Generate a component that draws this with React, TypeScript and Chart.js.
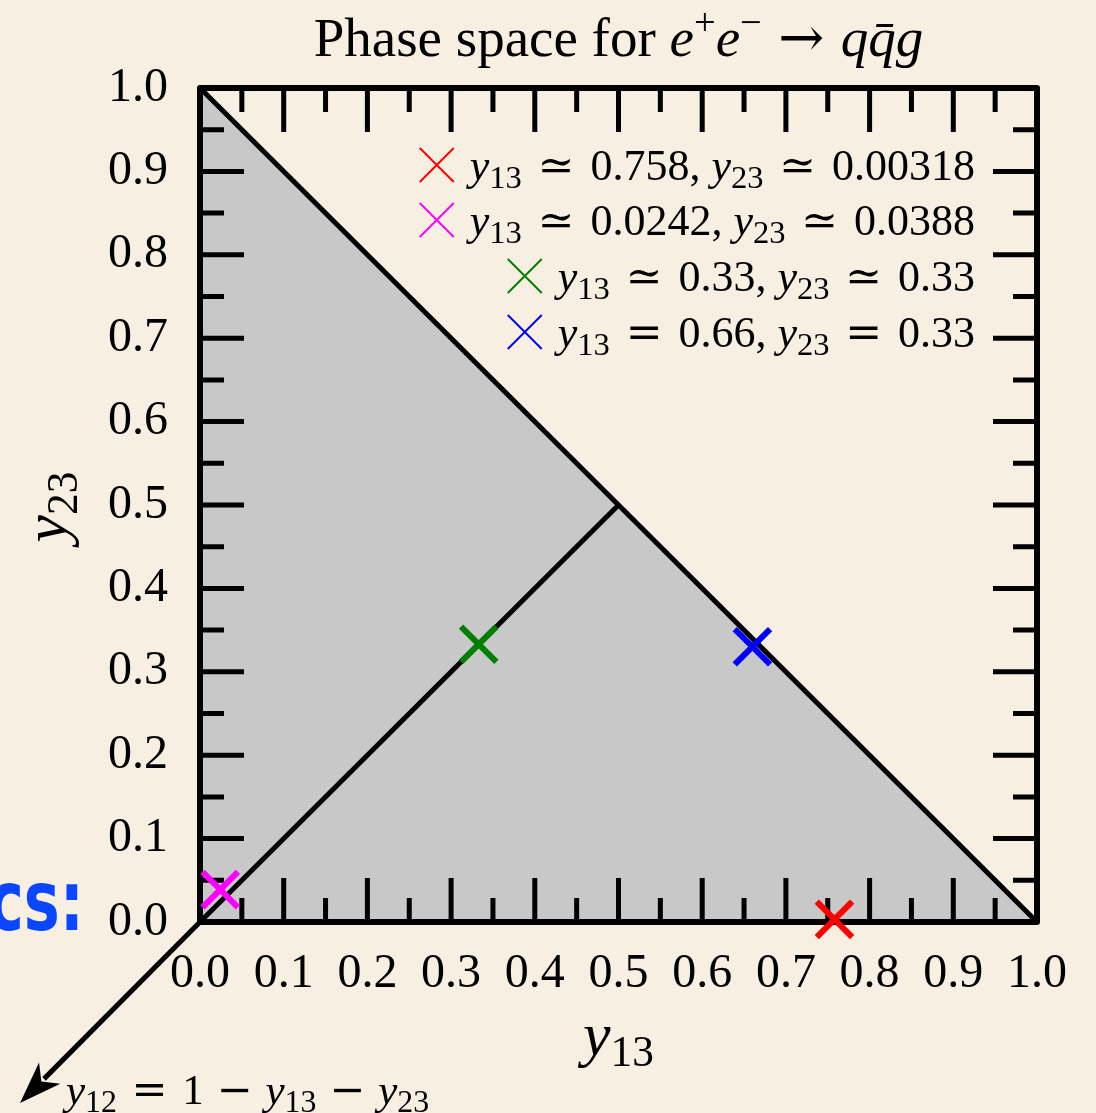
import { useEffect, useRef } from 'react';
import { Chart, registerables } from 'chart.js';

Chart.register(...registerables);

const SERIF = '"Liberation Serif","DejaVu Serif",serif';
const OPFONT = '"DejaVu Serif",serif';
const BG = '#f7efe1';
const GRAY = '#c8c8c8';

// data
const boundaryX = [0, 1];
const boundaryY = [1, 0];
const bisectorX = [0, 0.5];
const bisectorY = [0, 0.5];
const arrowX = [0, -0.215];
const arrowY = [0, -0.217];
const pointX = [0.758, 0.0242, 0.333, 0.66];
const pointY = [0.00318, 0.0388, 0.333, 0.33];
const pointColors = ['#ff0000', '#ff00ff', '#008000', '#0000ff'];
const legendRel = ['\u2243', '\u2243', '\u2243', '='];
const legendY13 = ['0.758', '0.0242', '0.33', '0.66'];
const legendY23 = ['0.00318', '0.0388', '0.33', '0.33'];
const tickStep = 0.1;

type Seg = { t: string; i?: boolean; sub?: boolean; sup?: boolean; op?: boolean; pad?: number };

let SUBSCALE = 0.7;

function segFont(s: Seg, size: number) {
  const sz = s.sub || s.sup ? size * SUBSCALE : size;
  return `${s.i ? 'italic ' : ''}${sz}px ${s.op ? OPFONT : SERIF}`;
}

function segWidth(ctx: CanvasRenderingContext2D, s: Seg, size: number) {
  ctx.font = segFont(s, size);
  return ctx.measureText(s.t).width + 2 * (s.pad || 0) * size;
}

function drawRich(
  ctx: CanvasRenderingContext2D,
  segs: Seg[],
  x: number,
  y: number,
  size: number,
  align: 'left' | 'right' | 'center',
  subScale = 0.7,
) {
  SUBSCALE = subScale;
  let total = 0;
  for (const s of segs) total += segWidth(ctx, s, size);
  let cx = align === 'right' ? x - total : align === 'center' ? x - total / 2 : x;
  const start = cx;
  ctx.textBaseline = 'alphabetic';
  ctx.textAlign = 'left';
  for (const s of segs) {
    const w = segWidth(ctx, s, size);
    ctx.font = segFont(s, size);
    const dy = s.sub ? size * 0.18 : s.sup ? -size * 0.38 : 0;
    ctx.fillText(s.t, cx + (s.pad || 0) * size, y + dy);
    cx += w;
  }
  SUBSCALE = 0.7;
  return start;
}

const framePlugin = {
  id: 'frame',
  beforeDatasetsDraw(chart: any) {
    const { ctx, chartArea: a, scales } = chart;
    const xs = scales.x;
    const ys = scales.y;
    ctx.save();
    ctx.strokeStyle = '#000';
    ctx.lineWidth = 5;
    ctx.lineCap = 'butt';
    const majors = xs.ticks.map((t: any) => t.value);
    const marks: { v: number; len: number }[] = [];
    majors.forEach((v: number, i: number) => {
      if (i > 0 && i < majors.length - 1) marks.push({ v, len: 44 });
      if (i < majors.length - 1) marks.push({ v: v + tickStep / 2, len: 24 });
    });
    for (const m of marks) {
      const px = xs.getPixelForValue(m.v);
      const py = ys.getPixelForValue(m.v);
      ctx.beginPath();
      ctx.moveTo(px, a.bottom);
      ctx.lineTo(px, a.bottom - m.len);
      ctx.moveTo(px, a.top);
      ctx.lineTo(px, a.top + m.len);
      ctx.moveTo(a.left, py);
      ctx.lineTo(a.left + m.len, py);
      ctx.moveTo(a.right, py);
      ctx.lineTo(a.right - m.len, py);
      ctx.stroke();
    }
    ctx.lineWidth = 6;
    ctx.lineJoin = 'round';
    ctx.strokeRect(a.left, a.top, a.right - a.left, a.bottom - a.top);
    ctx.restore();
  },
  afterDraw(chart: any) {
    const { ctx, chartArea: a, scales } = chart;
    const xs = scales.x;
    const ys = scales.y;
    ctx.save();
    ctx.fillStyle = '#000';
    // title
    drawRich(
      ctx,
      [
        { t: 'Phase space for ' },
        { t: 'e', i: true },
        { t: '+', sup: true },
        { t: 'e', i: true },
        { t: '\u2212', sup: true },
        { t: '\u2192', op: true, pad: 0.3 },
        { t: 'q', i: true },
        { t: 'q\u0304', i: true },
        { t: 'g', i: true },
      ],
      (a.left + a.right) / 2,
      56,
      55,
      'center',
    );
    // x title
    drawRich(ctx, [{ t: 'y', i: true }, { t: '13', sub: true }], (a.left + a.right) / 2, 1055, 62, 'center');
    // y title
    ctx.save();
    ctx.translate(66, (a.top + a.bottom) / 2 + 2);
    ctx.rotate(-Math.PI / 2);
    drawRich(ctx, [{ t: 'y', i: true }, { t: '23', sub: true }], 0, 0, 62, 'center');
    ctx.restore();

    // legend
    const baselines = [180, 235, 291, 347];
    const rightX = 975;
    legendY13.forEach((v, i) => {
      ctx.fillStyle = '#000';
      const start = drawRich(
        ctx,
        [
          { t: 'y', i: true },
          { t: '13', sub: true },
          { t: legendRel[i], op: true, pad: 0.36 },
          { t: `${v},` },
          { t: ' ' },
          { t: 'y', i: true },
          { t: '23', sub: true },
          { t: legendRel[i], op: true, pad: 0.36 },
          { t: legendY23[i] },
        ],
        rightX,
        baselines[i],
        44,
        'right',
        0.74,
      );
      const cx = start - 33;
      const cy = baselines[i] - 15;
      ctx.strokeStyle = pointColors[i];
      ctx.lineWidth = 2;
      ctx.beginPath();
      ctx.moveTo(cx - 17, cy - 17);
      ctx.lineTo(cx + 17, cy + 17);
      ctx.moveTo(cx + 17, cy - 17);
      ctx.lineTo(cx - 17, cy + 17);
      ctx.stroke();
    });

    // arrow toward y12 axis
    const x0 = xs.getPixelForValue(arrowX[0]);
    const y0 = ys.getPixelForValue(arrowY[0]);
    const x1 = xs.getPixelForValue(arrowX[1]);
    const y1 = ys.getPixelForValue(arrowY[1]);
    const ang = Math.atan2(y1 - y0, x1 - x0);
    const headLen = 42;
    const headW = 15;
    ctx.strokeStyle = '#000';
    ctx.fillStyle = '#000';
    ctx.lineWidth = 5;
    ctx.beginPath();
    ctx.moveTo(x0, y0);
    ctx.lineTo(x1 - Math.cos(ang) * (headLen - 8), y1 - Math.sin(ang) * (headLen - 8));
    ctx.stroke();
    ctx.beginPath();
    ctx.moveTo(x1, y1);
    const bx = x1 - Math.cos(ang) * headLen;
    const by = y1 - Math.sin(ang) * headLen;
    ctx.lineTo(bx + Math.cos(ang + Math.PI / 2) * headW, by + Math.sin(ang + Math.PI / 2) * headW);
    ctx.lineTo(x1 - Math.cos(ang) * headLen * 0.72, y1 - Math.sin(ang) * headLen * 0.72);
    ctx.lineTo(bx - Math.cos(ang + Math.PI / 2) * headW, by - Math.sin(ang + Math.PI / 2) * headW);
    ctx.closePath();
    ctx.fill();

    drawRich(
      ctx,
      [
        { t: 'y', i: true },
        { t: '12', sub: true },
        { t: '=', op: true, pad: 0.34 },
        { t: '1' },
        { t: '\u2212', op: true, pad: 0.3 },
        { t: 'y', i: true },
        { t: '13', sub: true },
        { t: '\u2212', op: true, pad: 0.3 },
        { t: 'y', i: true },
        { t: '23', sub: true },
      ],
      66,
      1104,
      43,
      'left',
      0.74,
    );

    // cut-off blue slide text
    ctx.save();
    ctx.fillStyle = '#0a46ff';
    ctx.font = `bold 84px "DejaVu Sans", sans-serif`;
    ctx.textAlign = 'right';
    ctx.textBaseline = 'alphabetic';
    ctx.translate(84, 930);
    ctx.scale(0.72, 1);
    ctx.fillText('cs:', 0, 0);
    ctx.restore();
    ctx.restore();
  },
};

export default function App() {
  const ref = useRef<HTMLCanvasElement>(null);
  useEffect(() => {
    if (!ref.current) return;
    const chart = new Chart(ref.current, {
      type: 'line',
      data: {
        datasets: [
          {
            label: 'points',
            data: pointX.map((x, i) => ({ x, y: pointY[i] })),
            showLine: false,
            pointStyle: 'crossRot',
            pointRadius: 25,
            pointBorderWidth: 6,
            pointBorderColor: pointColors,
            pointBackgroundColor: pointColors,
            clip: false as any,
          },
          {
            label: 'bisector',
            data: bisectorX.map((x, i) => ({ x, y: bisectorY[i] })),
            borderColor: '#000',
            borderWidth: 5,
            pointRadius: 0,
            fill: false,
          },
          {
            label: 'boundary',
            data: boundaryX.map((x, i) => ({ x, y: boundaryY[i] })),
            borderColor: '#000',
            borderWidth: 5,
            pointRadius: 0,
            backgroundColor: GRAY,
            fill: 'origin',
          },
        ],
      },
      options: {
        animation: false,
        responsive: false,
        devicePixelRatio: 1,
        layout: { padding: { left: 0, right: 59, top: 88, bottom: 0 } },
        plugins: {
          legend: { display: false },
          tooltip: { enabled: false },
          filler: { drawTime: 'beforeDatasetsDraw' } as any,
        },
        scales: {
          x: {
            type: 'linear',
            min: 0,
            max: 1,
            grid: { display: false, drawTicks: false },
            border: { display: false },
            ticks: {
              stepSize: tickStep,
              autoSkip: false,
              maxRotation: 0,
              padding: 24,
              color: '#000',
              font: { family: SERIF, size: 48 },
              callback: (v: any) => Number(v).toFixed(1),
            },
            afterFit: (s: any) => {
              s.height = 191;
            },
          },
          y: {
            type: 'linear',
            min: 0,
            max: 1,
            grid: { display: false, drawTicks: false },
            border: { display: false },
            ticks: {
              stepSize: tickStep,
              autoSkip: false,
              padding: 32,
              color: '#000',
              font: { family: SERIF, size: 48 },
              callback: (v: any) => Number(v).toFixed(1),
            },
            afterFit: (s: any) => {
              s.width = 200;
            },
          },
        },
      },
      plugins: [framePlugin],
    });
    return () => chart.destroy();
  }, []);
  return (
    <div style={{ position: 'fixed', left: 0, top: 0, width: 1096, height: 1113, background: BG, overflow: 'hidden' }}>
      <canvas ref={ref} width={1096} height={1113} style={{ display: 'block', width: 1096, height: 1113 }} />
    </div>
  );
}
